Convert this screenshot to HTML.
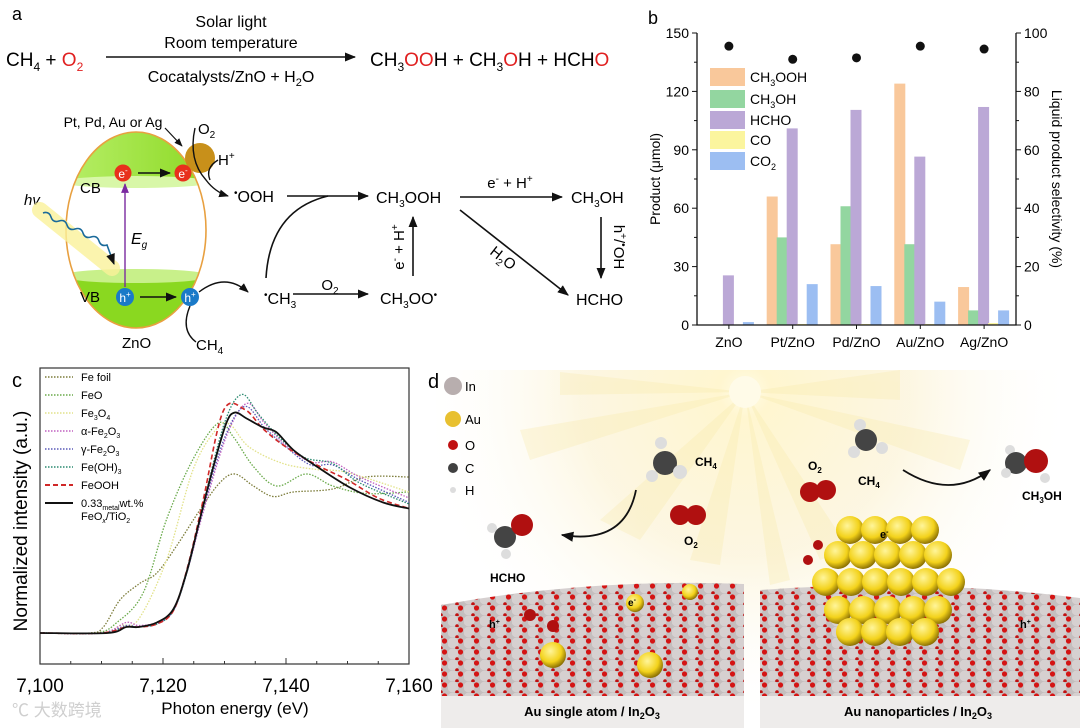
<!DOCTYPE html>
<html><head><meta charset="utf-8">
<style>
html,body{margin:0;padding:0;background:#fff;}
svg{display:block;font-family:"Liberation Sans","Noto Sans CJK SC",sans-serif;}
</style></head>
<body>
<svg id="fig" width="1080" height="728" viewBox="0 0 1080 728" xmlns="http://www.w3.org/2000/svg">
<defs>
<marker id="arr" viewBox="0 0 10 10" refX="9" refY="5" markerWidth="7" markerHeight="7" orient="auto"><path d="M0,1 L10,5 L0,9 z" fill="#111"/></marker>
<marker id="arrp" viewBox="0 0 10 10" refX="9" refY="5" markerWidth="7" markerHeight="7" orient="auto"><path d="M0,1 L10,5 L0,9 z" fill="#7a2aa0"/></marker>
<radialGradient id="sun" cx="745" cy="392" r="330" gradientUnits="userSpaceOnUse">
<stop offset="0" stop-color="#fffbe6"/><stop offset="0.08" stop-color="#fff6d0"/><stop offset="0.5" stop-color="#fbf1cf" stop-opacity="0.6"/><stop offset="1" stop-color="#fff" stop-opacity="0"/></radialGradient>
<pattern id="floorpat" width="16" height="11" patternUnits="userSpaceOnUse">
<rect width="16" height="11" fill="#c4bebe"/><circle cx="5" cy="5" r="5.5" fill="#d6d0d0"/><circle cx="12.5" cy="3" r="2.6" fill="#d41414"/><circle cx="9" cy="10" r="1.8" fill="#c01010"/></pattern>
<radialGradient id="gold" cx="0.4" cy="0.35" r="0.7"><stop offset="0" stop-color="#fff59a"/><stop offset="0.6" stop-color="#f3d21a"/><stop offset="1" stop-color="#7a6000"/></radialGradient>
<linearGradient id="greenTop" x1="0" y1="0" x2="1" y2="0"><stop offset="0" stop-color="#b8ef6a"/><stop offset="1" stop-color="#8ad820"/></linearGradient>
</defs>

<!-- ================= PANEL A ================= -->
<g>
<text x="12" y="20" font-size="18">a</text>
<text x="6" y="66" font-size="19">CH<tspan font-size="12" dy="5">4</tspan><tspan dy="-5"> + </tspan><tspan fill="#e02020">O<tspan font-size="12" dy="5">2</tspan></tspan></text>
<line x1="106" y1="57" x2="355" y2="57" stroke="#111" stroke-width="1.6" marker-end="url(#arr)"/>
<text x="231" y="27" font-size="16" text-anchor="middle">Solar light</text>
<text x="231" y="48" font-size="16" text-anchor="middle">Room temperature</text>
<text x="231" y="82" font-size="16" text-anchor="middle">Cocatalysts/ZnO + H<tspan font-size="11" dy="4">2</tspan><tspan dy="-4">O</tspan></text>
<text x="370" y="66" font-size="19">CH<tspan font-size="12" dy="5">3</tspan><tspan dy="-5" fill="#e02020">OO</tspan>H + CH<tspan font-size="12" dy="5">3</tspan><tspan dy="-5" fill="#e02020">O</tspan>H + HCH<tspan fill="#e02020">O</tspan></text>

<g>
<clipPath id="ellclip"><ellipse cx="136" cy="230" rx="70" ry="98"/></clipPath>
<g clip-path="url(#ellclip)">
<rect x="60" y="128" width="160" height="54" fill="url(#greenTop)"/>
<ellipse cx="136" cy="182" rx="75" ry="6" fill="#d8f7a8"/>
<rect x="60" y="276" width="160" height="60" fill="#8ad820"/>
<ellipse cx="136" cy="276" rx="75" ry="7" fill="#c8f08a"/>
</g>
<ellipse cx="136" cy="230" rx="70" ry="98" fill="none" stroke="#e8a040" stroke-width="1.6"/>
<circle cx="200" cy="158" r="15" fill="#c8901a"/>
</g>
<text x="113" y="127" font-size="14" text-anchor="middle">Pt, Pd, Au or Ag</text>
<line x1="165" y1="128" x2="182" y2="146" stroke="#111" stroke-width="1.2" marker-end="url(#arr)"/>
<text x="198" y="134" font-size="15">O<tspan font-size="10" dy="4">2</tspan></text>
<path d="M195,128 Q188,160 206,180 Q215,192 228,196" fill="none" stroke="#111" stroke-width="1.4" marker-end="url(#arr)"/>
<text x="218" y="165" font-size="15">H<tspan font-size="10" dy="-6">+</tspan></text>
<path d="M218,160 Q205,168 210,180" fill="none" stroke="#111" stroke-width="1.4"/>
<circle cx="123" cy="173" r="8.5" fill="#e8301c"/><text x="123" y="178" font-size="12" fill="#fff" text-anchor="middle">e<tspan font-size="8" dy="-5">-</tspan></text>
<circle cx="183" cy="173" r="8.5" fill="#e8301c"/><text x="183" y="178" font-size="12" fill="#fff" text-anchor="middle">e<tspan font-size="8" dy="-5">-</tspan></text>
<line x1="138" y1="173" x2="170" y2="173" stroke="#111" stroke-width="1.6" marker-end="url(#arr)"/>
<circle cx="125" cy="297" r="9" fill="#1a7ac8"/><text x="125" y="302" font-size="12" fill="#fff" text-anchor="middle">h<tspan font-size="8" dy="-5">+</tspan></text>
<circle cx="190" cy="297" r="9" fill="#1a7ac8"/><text x="190" y="302" font-size="12" fill="#fff" text-anchor="middle">h<tspan font-size="8" dy="-5">+</tspan></text>
<line x1="140" y1="297" x2="176" y2="297" stroke="#111" stroke-width="1.6" marker-end="url(#arr)"/>
<line x1="125" y1="287" x2="125" y2="184" stroke="#7a2aa0" stroke-width="1.4" marker-end="url(#arrp)"/>
<text x="131" y="244" font-size="16" font-style="italic">E<tspan font-size="10" dy="4">g</tspan></text>
<text x="80" y="193" font-size="15">CB</text>
<text x="80" y="302" font-size="15">VB</text>
<text x="24" y="205" font-size="15" font-style="italic">hv</text>
<line x1="40" y1="210" x2="112" y2="268" stroke="#fbf29a" stroke-width="16" stroke-linecap="round" opacity="0.8"/>
<path d="M43,213 q6,-2 8,4 t8,4 t8,4 t8,4 t8,4 t8,4 t8,4 t8,4 L114,264" fill="none" stroke="#1a6a9a" stroke-width="1.6" marker-end="url(#arr)"/>
<text x="122" y="348" font-size="15">ZnO</text>
<path d="M190,306 Q180,330 196,342" fill="none" stroke="#111" stroke-width="1.4"/>
<text x="196" y="350" font-size="15">CH<tspan font-size="10" dy="4">4</tspan></text>
<path d="M199,292 Q225,272 248,292" fill="none" stroke="#111" stroke-width="1.4" marker-end="url(#arr)"/>

<g font-size="16">
<text x="234" y="202"><tspan font-size="10" dy="-6">•</tspan><tspan dy="6">OOH</tspan></text>
<text x="264" y="304"><tspan font-size="10" dy="-6">•</tspan><tspan dy="6">CH</tspan><tspan font-size="10" dy="4">3</tspan></text>
<text x="376" y="203">CH<tspan font-size="10" dy="4">3</tspan><tspan dy="-4">OOH</tspan></text>
<text x="380" y="304">CH<tspan font-size="10" dy="4">3</tspan><tspan dy="-4">OO</tspan><tspan font-size="10" dy="-6">•</tspan></text>
<text x="571" y="203">CH<tspan font-size="10" dy="4">3</tspan><tspan dy="-4">OH</tspan></text>
<text x="576" y="305">HCHO</text>
<text x="330" y="290" text-anchor="middle" font-size="15">O<tspan font-size="10" dy="4">2</tspan></text>
<text x="510" y="188" text-anchor="middle" font-size="15">e<tspan font-size="10" dy="-6">-</tspan><tspan dy="6"> + H</tspan><tspan font-size="10" dy="-6">+</tspan></text>
<text transform="translate(404,247) rotate(-90)" text-anchor="middle" font-size="15">e<tspan font-size="10" dy="-6">-</tspan><tspan dy="6"> + H</tspan><tspan font-size="10" dy="-6">+</tspan></text>
<text transform="translate(614,247) rotate(90)" text-anchor="middle" font-size="15">h<tspan font-size="10" dy="-6">+</tspan><tspan dy="6">/</tspan><tspan font-size="10" dy="-6">•</tspan><tspan dy="6">OH</tspan></text>
<text transform="translate(500,262) rotate(38)" text-anchor="middle" font-size="15">H<tspan font-size="10" dy="4">2</tspan><tspan dy="-4">O</tspan></text>
</g>
<g stroke="#111" stroke-width="1.6" fill="none">
<line x1="287" y1="196" x2="368" y2="196" marker-end="url(#arr)"/>
<path d="M266,278 Q270,210 328,196"/>
<line x1="293" y1="294" x2="368" y2="294" marker-end="url(#arr)"/>
<line x1="413" y1="276" x2="413" y2="217" marker-end="url(#arr)"/>
<line x1="460" y1="197" x2="562" y2="197" marker-end="url(#arr)"/>
<line x1="601" y1="217" x2="601" y2="278" marker-end="url(#arr)"/>
<line x1="460" y1="210" x2="568" y2="295" marker-end="url(#arr)"/>
</g>
</g>

<!-- ================= PANEL B ================= -->
<g id="panelB">
<text x="648" y="24" font-size="18">b</text>
</g>

<!-- ================= PANEL C ================= -->
<g id="panelC">
<text x="12" y="387" font-size="20">c</text>
</g>

<!-- ================= PANEL D ================= -->
<g>
<rect x="436" y="370" width="644" height="358" fill="url(#sun)"/>
<g fill="#f8e9a8" opacity="0.3">
<polygon points="745,392 600,520 640,540"/><polygon points="745,392 520,430 530,460"/>
<polygon points="745,392 690,560 720,565"/><polygon points="745,392 820,560 850,550"/>
<polygon points="745,392 960,470 970,440"/><polygon points="745,392 900,370 900,400"/>
<polygon points="745,392 560,372 560,395"/><polygon points="745,392 790,580 770,585"/>
</g>
<circle cx="745" cy="392" r="16" fill="#fffbe8"/>
<text x="428" y="388" font-size="20">d</text>
<g font-size="13">
<circle cx="453" cy="386" r="9" fill="#b8aeae"/><text x="465" y="391">In</text>
<circle cx="453" cy="419" r="8" fill="#e8c030"/><text x="465" y="424">Au</text>
<circle cx="453" cy="445" r="5" fill="#c01010"/><text x="465" y="450">O</text>
<circle cx="453" cy="468" r="5" fill="#404040"/><text x="465" y="473">C</text>
<circle cx="453" cy="490" r="3" fill="#ddd"/><text x="465" y="495">H</text>
</g>
<path d="M441,605 Q590,578 744,584 L744,696 L441,696 Z" fill="url(#floorpat)"/>
<path d="M760,590 Q920,578 1080,598 L1080,696 L760,696 Z" fill="url(#floorpat)"/>
<rect x="441" y="696" width="303" height="32" fill="#eeeceb"/>
<rect x="760" y="696" width="320" height="32" fill="#eeeceb"/>
<text x="592" y="716" font-size="13" font-weight="bold" text-anchor="middle">Au single atom / In<tspan font-size="9" dy="3">2</tspan><tspan dy="-3">O</tspan><tspan font-size="9" dy="3">3</tspan></text>
<text x="918" y="716" font-size="13" font-weight="bold" text-anchor="middle">Au nanoparticles / In<tspan font-size="9" dy="3">2</tspan><tspan dy="-3">O</tspan><tspan font-size="9" dy="3">3</tspan></text>
<circle cx="553" cy="655" r="13" fill="url(#gold)"/><circle cx="650" cy="665" r="13" fill="url(#gold)"/>
<circle cx="635" cy="603" r="9" fill="url(#gold)"/><circle cx="690" cy="592" r="8" fill="url(#gold)"/>
<text x="628" y="606" font-size="10" font-weight="bold">e<tspan font-size="7" dy="-4">-</tspan></text>
<text x="489" y="628" font-size="11" font-weight="bold">h<tspan font-size="7" dy="-4">+</tspan></text>
<circle cx="530" cy="615" r="6" fill="#b01010"/><circle cx="553" cy="626" r="6" fill="#b01010"/>
<g id="cluster"></g>
<text x="880" y="538" font-size="11" font-weight="bold">e<tspan font-size="7" dy="-4">-</tspan></text>
<text x="1020" y="628" font-size="11" font-weight="bold">h<tspan font-size="7" dy="-4">+</tspan></text>
<circle cx="818" cy="545" r="5" fill="#b01010"/><circle cx="808" cy="560" r="5" fill="#b01010"/>
<g>
<circle cx="661" cy="443" r="6" fill="#ddd"/><circle cx="665" cy="463" r="12" fill="#444"/><circle cx="652" cy="476" r="6" fill="#ddd"/><circle cx="680" cy="472" r="7" fill="#ddd"/></g>
<text x="695" y="466" font-size="12" font-weight="bold">CH<tspan font-size="8" dy="3">4</tspan></text>
<g><circle cx="680" cy="515" r="10" fill="#b01010"/><circle cx="696" cy="515" r="10" fill="#b01010"/></g>
<text x="684" y="545" font-size="12" font-weight="bold">O<tspan font-size="8" dy="3">2</tspan></text>
<g><circle cx="492" cy="528" r="5" fill="#ddd"/><circle cx="505" cy="537" r="11" fill="#444"/><circle cx="522" cy="525" r="11" fill="#b01010"/><circle cx="506" cy="554" r="5" fill="#ddd"/></g>
<text x="490" y="582" font-size="12" font-weight="bold">HCHO</text>
<path d="M636,490 Q625,545 562,535" fill="none" stroke="#111" stroke-width="1.8" marker-end="url(#arr)"/>
<g><circle cx="810" cy="492" r="10" fill="#b01010"/><circle cx="826" cy="490" r="10" fill="#b01010"/></g>
<text x="808" y="470" font-size="12" font-weight="bold">O<tspan font-size="8" dy="3">2</tspan></text>
<g><circle cx="860" cy="425" r="6" fill="#ddd"/><circle cx="866" cy="440" r="11" fill="#444"/><circle cx="854" cy="452" r="6" fill="#ddd"/><circle cx="882" cy="448" r="6" fill="#ddd"/></g>
<text x="858" y="485" font-size="12" font-weight="bold">CH<tspan font-size="8" dy="3">4</tspan></text>
<path d="M903,470 Q950,500 990,470" fill="none" stroke="#111" stroke-width="1.8" marker-end="url(#arr)"/>
<g><circle cx="1010" cy="450" r="5" fill="#ddd"/><circle cx="1016" cy="463" r="11" fill="#444"/><circle cx="1036" cy="461" r="12" fill="#b01010"/><circle cx="1006" cy="473" r="5" fill="#ddd"/><circle cx="1045" cy="478" r="5" fill="#ddd"/></g>
<text x="1022" y="500" font-size="12" font-weight="bold">CH<tspan font-size="8" dy="3">3</tspan><tspan dy="-3">OH</tspan></text>
</g>
<text x="12" y="716" font-size="17" fill="#cfcfcf">℃ 大数跨境</text>
</svg>

<script>
var NS = "http://www.w3.org/2000/svg";
function mk(tag, attrs, parent) { var e = document.createElementNS(NS, tag); for (var k in attrs) e.setAttribute(k, attrs[k]); parent.appendChild(e); return e; }

/* ---------- Panel B data ---------- */
var categories = ["ZnO", "Pt/ZnO", "Pd/ZnO", "Au/ZnO", "Ag/ZnO"];
var seriesNames = ["CH3OOH", "CH3OH", "HCHO", "CO", "CO2"];
var ch3oohVals = [0, 66, 41.5, 124, 19.5];
var ch3ohVals = [0, 45, 61, 41.5, 7.5];
var hchoVals = [25.5, 101, 110.5, 86.5, 112];
var coVals = [0, 0.5, 0.5, 0.5, 1];
var co2Vals = [1.5, 21, 20, 12, 7.5];
var selectivityVals = [95.5, 91, 91.5, 95.5, 94.5];
var leftTicks = [0, 30, 60, 90, 120, 150];
var rightTicks = [0, 20, 40, 60, 80, 100];

/* ---------- Panel C data ---------- */
var feFoilE = [7100, 7108, 7110.3, 7113, 7116.2, 7119, 7122.2, 7126, 7129.2, 7131.7, 7134.7, 7137.9, 7141.2, 7147.6, 7153, 7160];
var feFoilI = [0, 0, 0.04, 0.22, 0.33, 0.4, 0.58, 0.82, 1.0, 1.06, 0.98, 0.91, 0.94, 0.96, 1.04, 1.04];
var feoE = [7100, 7109, 7112.5, 7116.8, 7120.6, 7124.9, 7129, 7131.4, 7134.7, 7138.5, 7143.3, 7147.6, 7153, 7160];
var feoI = [0, 0, 0.07, 0.27, 0.76, 1.16, 1.4, 1.31, 1.11, 0.98, 1.06, 0.98, 0.93, 0.94];
var fe3o4E = [7100, 7110, 7113, 7116, 7120.6, 7124.9, 7128.7, 7130.9, 7134, 7139.5, 7145, 7150, 7160];
var fe3o4I = [0, 0, 0.05, 0.09, 0.49, 1.09, 1.36, 1.39, 1.24, 1.13, 1.09, 1.07, 0.94];
var alphaE = [7100, 7110, 7114, 7116, 7119, 7121.7, 7124, 7126.5, 7130.3, 7133.6, 7136.5, 7140, 7144, 7147.6, 7152, 7160];
var alphaI = [0, 0, 0.07, 0.05, 0.07, 0.15, 0.42, 0.8, 1.31, 1.53, 1.4, 1.25, 1.14, 1.14, 1.04, 0.9];
var gammaE = [7100, 7110, 7114, 7116, 7119, 7121.7, 7124, 7126.5, 7130, 7133.3, 7136.5, 7140, 7144, 7147.6, 7152, 7160];
var gammaI = [0, 0, 0.05, 0.04, 0.06, 0.15, 0.42, 0.82, 1.3, 1.51, 1.37, 1.24, 1.12, 1.12, 1.02, 0.87];
var fehE = [7100, 7110, 7114, 7116, 7119, 7121.7, 7124, 7126.5, 7130, 7132.8, 7135.5, 7139, 7143, 7147.6, 7152, 7160];
var fehI = [0, 0, 0.04, 0.04, 0.06, 0.15, 0.42, 0.85, 1.4, 1.59, 1.46, 1.3, 1.17, 1.13, 1.0, 0.86];
var feoohE = [7100, 7110, 7114, 7116, 7119, 7121.7, 7124, 7126.5, 7129.8, 7133.3, 7136.3, 7140, 7145, 7150, 7155, 7160];
var feoohI = [0, 0, 0.04, 0.04, 0.06, 0.15, 0.44, 0.88, 1.48, 1.49, 1.36, 1.24, 1.12, 1.02, 0.9, 0.83];
var sampleE = [7100, 7111, 7114, 7116, 7119, 7121.7, 7123.8, 7126, 7128.2, 7130.3, 7131.7, 7133.6, 7136.3, 7138.4, 7141.2, 7145, 7150.4, 7155.8, 7160];
var sampleI = [0, 0, 0.04, 0.04, 0.07, 0.16, 0.4, 0.76, 1.11, 1.4, 1.47, 1.43, 1.37, 1.34, 1.22, 1.11, 0.97, 0.87, 0.83];
var xTicksC = [7100, 7120, 7140, 7160];
var xTickLabelsC = ["7,100", "7,120", "7,140", "7,160"];

(function () {
  var g = document.getElementById("panelB");
  var L = 697, R = 1016, T = 33, B = 325;
  var y = function (v) { return B - v / 150 * (B - T); };
  var yR = function (v) { return B - v / 100 * (B - T); };
  var gw = (R - L) / categories.length;
  var cx = function (i) { return L + gw * (i + 0.5); };
  var colors = ["#f9c89b", "#93d6a0", "#bba8d6", "#fbf59e", "#9cbef2"];
  var all = [ch3oohVals, ch3ohVals, hchoVals, coVals, co2Vals];
  for (var s = 0; s < all.length; s++) {
    for (var i = 0; i < categories.length; i++) {
      var v = all[s][i];
      var b = mk("rect", { x: cx(i) + (s - 2) * 10 - 6, y: y(v), width: 11, height: B - y(v), fill: colors[s] }, g);
      
      
    }
  }
  for (var i = 0; i < categories.length; i++) {
    var d = mk("circle", { cx: cx(i), cy: yR(selectivityVals[i]), r: 4.5, fill: "#111" }, g);
    
    
    var t = mk("text", { x: cx(i), y: 347, "font-size": 14, "text-anchor": "middle" }, g);
    t.textContent = categories[i];
    
    
    mk("line", { x1: cx(i), x2: cx(i), y1: B, y2: B + 4, stroke: "#111" }, g);
  }
  var frame = mk("path", { d: "M" + L + "," + T + " L" + L + "," + B + " L" + R + "," + B + " L" + R + "," + T, fill: "none", stroke: "#111", "stroke-width": 1.3 }, g);
  
  
  for (var k = 0; k < leftTicks.length; k++) {
    var yy = y(leftTicks[k]);
    mk("line", { x1: L - 5, x2: L, y1: yy, y2: yy, stroke: "#111" }, g);
    if (k < leftTicks.length - 1) mk("line", { x1: L - 3, x2: L, y1: y(leftTicks[k] + 15), y2: y(leftTicks[k] + 15), stroke: "#111" }, g);
    var t = mk("text", { x: L - 8, y: yy + 5, "font-size": 14, "text-anchor": "end" }, g);
    t.textContent = leftTicks[k];
    
    
  }
  for (var k = 0; k < rightTicks.length; k++) {
    var yy = yR(rightTicks[k]);
    mk("line", { x1: R, x2: R + 5, y1: yy, y2: yy, stroke: "#111" }, g);
    if (k < rightTicks.length - 1) mk("line", { x1: R, x2: R + 3, y1: yR(rightTicks[k] + 10), y2: yR(rightTicks[k] + 10), stroke: "#111" }, g);
    var t = mk("text", { x: R + 8, y: yy + 5, "font-size": 14 }, g);
    t.textContent = rightTicks[k];
    
    
  }
  var yl = mk("text", { transform: "translate(660,179) rotate(-90)", "font-size": 14, "text-anchor": "middle" }, g);
  yl.textContent = "Product (μmol)";
  
  
  var yr = mk("text", { transform: "translate(1052,179) rotate(90)", "font-size": 14, "text-anchor": "middle" }, g);
  yr.textContent = "Liquid product selectivity (%)";
  
  
  var labels = [["CH", "3", "OOH"], ["CH", "3", "OH"], ["HCHO", "", ""], ["CO", "", ""], ["CO", "2", ""]];
  var ly = [77, 99, 120, 140, 161];
  for (var s = 0; s < 5; s++) {
    var sw = mk("rect", { x: 710, y: ly[s] - 9, width: 35, height: 18, fill: colors[s] }, g);
    
    
    var t = mk("text", { x: 750, y: ly[s] + 5, "font-size": 14 }, g);
    
    
    t.appendChild(document.createTextNode(labels[s][0]));
    if (labels[s][1]) { var sub = mk("tspan", { "font-size": 9, dy: 4 }, t); sub.textContent = labels[s][1]; var r2 = mk("tspan", { dy: -4 }, t); r2.textContent = labels[s][2]; }
  }
})();

(function () {
  var g = document.getElementById("panelC");
  var L = 40, R = 409, T = 368, B = 664, base = 633;
  var x = function (e) { return L + (e - 7100) / 60 * (R - L); };
  var y = function (v) { return base - v * 150; };
  var box = mk("rect", { x: L, y: T, width: R - L, height: B - T, fill: "none", stroke: "#333", "stroke-width": 1.2 }, g);
  
  
  for (var e = 7100; e <= 7160; e += 5) mk("line", { x1: x(e), x2: x(e), y1: B, y2: B - (e % 20 === 0 ? 6 : 3), stroke: "#333" }, g);
  for (var k = 0; k < xTicksC.length; k++) {
    var t = mk("text", { x: x(xTicksC[k]), y: 692, "font-size": 19, "text-anchor": "middle" }, g);
    t.textContent = xTickLabelsC[k];
    
    
  }
  var xt = mk("text", { x: 235, y: 714, "font-size": 17, "text-anchor": "middle" }, g);
  xt.textContent = "Photon energy (eV)";
  
  
  var ytl = mk("text", { transform: "translate(27,521) rotate(-90)", "font-size": 19, "text-anchor": "middle" }, g);
  ytl.textContent = "Normalized intensity (a.u.)";
  
  
  var series = [
    [feFoilE, feFoilI, "#7c7c3a", "1.5,1.5", 1.3, "fe-foil"],
    [feoE, feoI, "#6aaa4a", "1.5,1.5", 1.3, "feo"],
    [fe3o4E, fe3o4I, "#e2e28a", "1.5,1.5", 1.3, "fe3o4"],
    [alphaE, alphaI, "#c060c0", "1.5,1.5", 1.3, "alpha-fe2o3"],
    [gammaE, gammaI, "#5a5ab8", "1.5,1.5", 1.3, "gamma-fe2o3"],
    [fehE, fehI, "#2a8a70", "1.5,1.5", 1.3, "fe-oh-3"],
    [feoohE, feoohI, "#d02828", "5,3", 1.6, "feooh"],
    [sampleE, sampleI, "#111", "", 1.8, "feox-tio2"]
  ];
  for (var s = 0; s < series.length; s++) {
    var E = series[s][0], I = series[s][1], pts = [];
    for (var i = 0; i < E.length; i++) pts.push([x(E[i]), y(I[i])]);
    var d = "M" + pts[0][0] + "," + pts[0][1];
    for (var i = 0; i < pts.length - 1; i++) {
      var p0 = pts[Math.max(0, i - 1)], p1 = pts[i], p2 = pts[i + 1], p3 = pts[Math.min(pts.length - 1, i + 2)];
      d += " C" + (p1[0] + (p2[0] - p0[0]) / 6) + "," + (p1[1] + (p2[1] - p0[1]) / 6) + " " + (p2[0] - (p3[0] - p1[0]) / 6) + "," + (p2[1] - (p3[1] - p1[1]) / 6) + " " + p2[0] + "," + p2[1];
    }
    var pth = mk("path", { d: d, fill: "none", stroke: series[s][2], "stroke-width": series[s][4] }, g);
    if (series[s][3]) pth.setAttribute("stroke-dasharray", series[s][3]);
    
    
  }
  var legendRows = [["Fe foil"], ["FeO"], ["Fe", "3", "O", "4"], ["α-Fe", "2", "O", "3"], ["γ-Fe", "2", "O", "3"], ["Fe(OH)", "3"], ["FeOOH"], ["0.33", "metal", "wt.%"]];
  var ry = [377, 395, 413, 431, 449, 467, 485, 503];
  for (var s = 0; s < series.length; s++) {
    var ln = mk("line", { x1: 45, x2: 73, y1: ry[s], y2: ry[s], stroke: series[s][2], "stroke-width": series[s][4] + 0.3 }, g);
    if (series[s][3]) ln.setAttribute("stroke-dasharray", series[s][3]);
    
    
    var t = mk("text", { x: 81, y: ry[s] + 4, "font-size": 11 }, g);
    
    
    var parts = legendRows[s];
    for (var p = 0; p < parts.length; p++) {
      var ts = mk("tspan", p % 2 === 1 ? { "font-size": 7, dy: 3 } : (p > 0 ? { dy: -3 } : {}), t);
      ts.textContent = parts[p];
    }
  }
  var t2 = mk("text", { x: 81, y: 520, "font-size": 11 }, g);
  
  
  t2.innerHTML = 'FeO<tspan font-size="7" dy="3" font-style="italic">x</tspan><tspan dy="-3">/TiO</tspan><tspan font-size="7" dy="3">2</tspan>';
})();

(function () {
  var g = document.getElementById("cluster");
  var rows = [[530, 4, 850], [555, 5, 838], [582, 6, 826], [610, 5, 838], [632, 4, 850]];
  for (var r = 0; r < rows.length; r++) {
    for (var i = 0; i < rows[r][1]; i++) {
      var c = mk("circle", { cx: rows[r][2] + i * 25, cy: rows[r][0], r: 14, fill: "url(#gold)" }, g);
      
      
    }
  }
})();
</script>
</body></html>
